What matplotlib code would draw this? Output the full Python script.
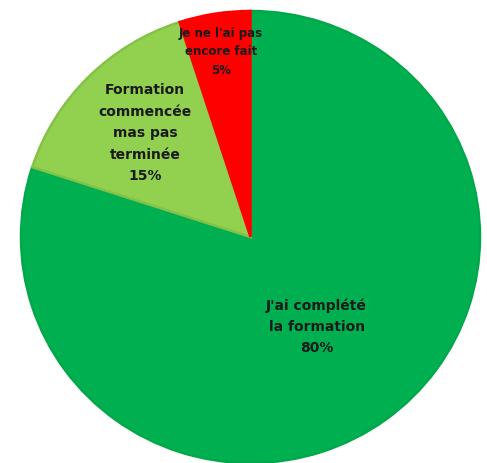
import matplotlib
matplotlib.use("Agg")
import matplotlib.pyplot as plt
import numpy as np

categories = ["J'ai complété\nla formation", "Formation\ncommencée\nmas pas\nterminée", "Je ne l'ai pas\nencore fait"]
values = [80, 15, 5]
colors = ["#00B050", "#92D050", "#FF0000"]
edge_colors = ["#00A849", "#84C247", "#FF0000"]
label_dist = [0.49, 0.65, 0.83]
label_sizes = [10, 10, 8.5]
label_spacing = [1.65, 1.68, 1.55]

W, H = 487, 463
fig = plt.figure(figsize=(W / 100, H / 100), dpi=100)
ax = fig.add_axes([0, 0, 1, 1])

wedges, _ = ax.pie(values, colors=colors, startangle=90, counterclock=False,
                   wedgeprops=dict(linewidth=1.8))
for w, ec in zip(wedges, edge_colors):
    w.set_edgecolor(ec)

cx, cy, rx, ry = 250.5, 237, 229.5, 226
ax.set_aspect('auto')
ax.set_xlim(-cx / rx, (W - cx) / rx)
ax.set_ylim(-(H - cy) / ry, cy / ry)
ax.axis('off')

for w, cat, v, d, fs, ls in zip(wedges, categories, values, label_dist, label_sizes, label_spacing):
    ang = np.deg2rad((w.theta1 + w.theta2) / 2)
    ax.text(d * np.cos(ang), d * np.sin(ang), f"{cat}\n{v}%",
            ha='center', va='center', fontsize=fs, fontweight='bold',
            color='#1a1a1a', linespacing=ls, family='DejaVu Sans')

fig.savefig("out.png", dpi=100)
